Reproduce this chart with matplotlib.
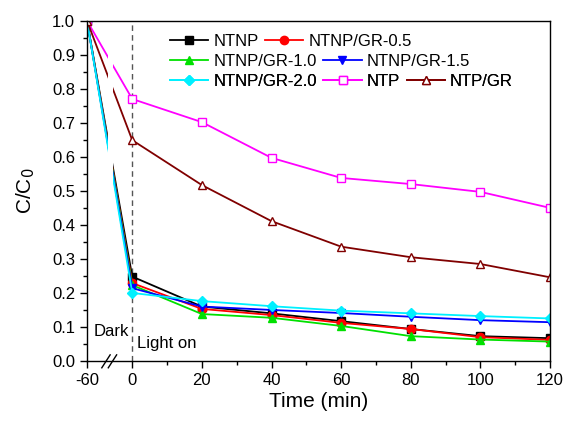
import numpy as np
import matplotlib
matplotlib.use('Agg')
import matplotlib.pyplot as plt

plt.rcParams['font.family'] = ['Liberation Sans', 'DejaVu Sans']

# time points (min); -60 is the dark adsorption start
time = [-60, 0, 20, 40, 60, 80, 100, 120]

ntnp   = [1.0, 0.248, 0.160, 0.140, 0.117, 0.094, 0.073, 0.067]
gr05   = [1.0, 0.229, 0.153, 0.135, 0.112, 0.094, 0.070, 0.062]
gr10   = [1.0, 0.223, 0.138, 0.127, 0.103, 0.073, 0.063, 0.057]
gr15   = [1.0, 0.214, 0.160, 0.150, 0.141, 0.130, 0.120, 0.114]
gr20   = [1.0, 0.200, 0.176, 0.161, 0.148, 0.140, 0.132, 0.125]
ntp    = [1.0, 0.770, 0.702, 0.597, 0.538, 0.520, 0.497, 0.450]
ntp_gr = [1.0, 0.649, 0.517, 0.411, 0.336, 0.305, 0.285, 0.246]

names = ['NTNP', 'NTNP/GR-0.5', 'NTNP/GR-1.0', 'NTNP/GR-1.5', 'NTNP/GR-2.0', 'NTP', 'NTP/GR']
series = [ntnp, gr05, gr10, gr15, gr20, ntp, ntp_gr]
colors = ['#000000', '#ff0000', '#00e000', '#0000ff', '#00f0ff', '#ff00ff', '#800000']
markers = ['s', 'o', '^', 'v', 'D', 's', '^']
filled = [True, True, True, True, True, False, False]

xticks = [-60, 0, 20, 40, 60, 80, 100, 120]

# broken axis: squeeze the dark period
DARK_W = 13.0
def xpos(t):
    t = np.asarray(t, dtype=float)
    return np.where(t < 0, t * DARK_W / 60.0, t)

fig = plt.figure(figsize=(5.7, 4.24), dpi=100)
ax = fig.add_axes([0.1526, 0.1486, 0.8124, 0.8025])

handles = []
for y, name, c, m, f in zip(series, names, colors, markers, filled):
    ms = 6 if m != 'D' else 5.5
    h, = ax.plot(xpos(time), y, color=c, marker=m, lw=1.3, ms=ms,
                 mfc=c if f else 'white', mec=c, mew=1.0, label=name, zorder=2)
    handles.append(h)

# white band hides lines at the break
ax.axvspan(-7.1, -5.4, color='white', zorder=2.3, lw=0)

ax.axvline(0, color='#555555', ls=(0, (4, 3)), lw=1.0, zorder=1)

ax.set_xlim(-DARK_W, 120)
ax.set_ylim(0, 1.0)
ax.set_xticks(xpos(xticks))
ax.set_xticklabels([str(t) for t in xticks])
ax.set_xticks([10, 30, 50, 70, 90, 110], minor=True)
ax.set_yticks(np.arange(0, 1.01, 0.1))
ax.set_yticklabels(['%.1f' % v for v in np.arange(0, 1.01, 0.1)])
ax.set_yticks(np.arange(0.05, 1.0, 0.1), minor=True)
ax.tick_params(axis='both', which='major', direction='out', length=5, width=1, labelsize=12)
ax.tick_params(axis='both', which='minor', direction='out', length=3, width=1)
for s in ax.spines.values():
    s.set_linewidth(1.0)

ax.set_xlabel('Time (min)', fontsize=15, labelpad=3)
ax.set_ylabel('C/C$_0$', fontsize=15, labelpad=11)

# break marks
for x0 in (0.032, 0.046):
    ax.plot([x0, x0 + 0.018], [-0.02, 0.018], color='black', lw=1.0,
            transform=ax.transAxes, clip_on=False, zorder=5)

ax.text(-11.2, 0.088, 'Dark', fontsize=12, va='center', ha='left')
ax.text(1.5, 0.05, 'Light on', fontsize=12, va='center', ha='left')

# legend laid out in three rows like the original
rows = [[0, 1], [2, 3], [4, 5, 6]]
row_y = [0.902, 0.855, 0.808]
for r, yy in zip(rows, row_y):
    leg = ax.legend([handles[i] for i in r], [names[i] for i in r],
                    loc='center left', bbox_to_anchor=(0.298, yy),
                    bbox_transform=fig.transFigure, ncol=len(r), frameon=False,
                    fontsize=12, handlelength=2.3, handletextpad=0.3,
                    columnspacing=0.4, borderpad=0, borderaxespad=0)
    ax.add_artist(leg)

fig.savefig('out.png', dpi=100)
